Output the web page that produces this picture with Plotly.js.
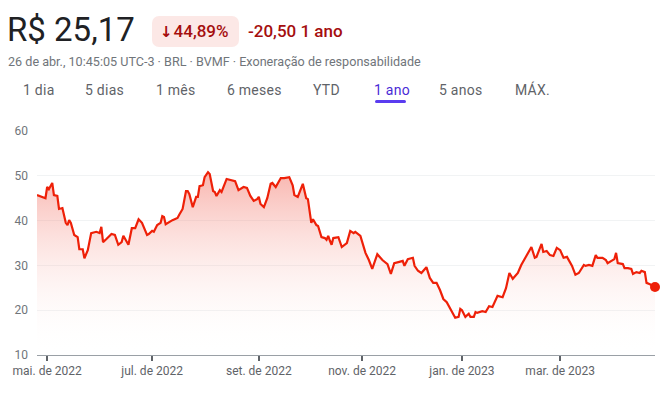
<!DOCTYPE html>
<html>
<head>
<meta charset="utf-8">
<script src="https://cdn.plot.ly/plotly-3.0.1.min.js"></script>
<style>
  html, body { margin: 0; padding: 0; background: #fff; }
  body { width: 665px; height: 395px; position: relative; overflow: hidden; font-family: Roboto, "Noto Sans", Arial, sans-serif; }
  #chart { position: absolute; left: 0; top: 0; width: 665px; height: 395px; }
  .abs { position: absolute; white-space: nowrap; }
  #price { left: 7px; top: 10px; font-size: 33px; color: #202124; line-height: 40px; }
  #badge { left: 152px; top: 16px; width: 87px; height: 31px; background: #fce8e6; border-radius: 7px; }
  #pct { left: 160px; top: 20px; font-size: 17px; font-weight: 500; line-height: 22px; color: #a50e0e; }
  #pct span { display: inline-block; margin-right: 1px; font-family: "DejaVu Sans", sans-serif; font-weight: bold; font-size: 15px; }
  #chg { left: 248px; top: 20px; font-size: 17px; font-weight: 500; line-height: 22px; color: #a50e0e; }
  #sub { left: 8px; top: 54px; font-size: 12.6px; line-height: 16px; color: #70757a; }
  .tab { top: 81px; font-size: 14px; line-height: 18px; color: #5f6368; letter-spacing: 0.25px; }
  #active { color: #4a2bd6; }
  #uline { left: 375px; top: 100px; width: 31px; height: 3px; border-radius: 2px; background: #5a3cf0; }
</style>
</head>
<body>
<div id="chart"></div>
<div class="abs" id="price">R$ 25,17</div>
<div class="abs" id="badge"></div>
<div class="abs" id="pct"><span>&#8595;</span>44,89%</div>
<div class="abs" id="chg">-20,50 1 ano</div>
<div class="abs" id="sub">26 de abr., 10:45:05 UTC-3 · BRL · BVMF · Exoneração de responsabilidade</div>
<div class="abs tab" style="left:23px">1 dia</div>
<div class="abs tab" style="left:85px">5 dias</div>
<div class="abs tab" style="left:156px">1 mês</div>
<div class="abs tab" style="left:227px">6 meses</div>
<div class="abs tab" style="left:313px">YTD</div>
<div class="abs tab" id="active" style="left:374px">1 ano</div>
<div class="abs tab" style="left:439px">5 anos</div>
<div class="abs tab" style="left:515px">MÁX.</div>
<div class="abs" id="uline"></div>
<script>
const dates = [
 "2022-04-26","2022-04-29","2022-05-01","2022-05-02","2022-05-03","2022-05-05","2022-05-06","2022-05-08","2022-05-09","2022-05-11",
 "2022-05-13","2022-05-14","2022-05-15","2022-05-16","2022-05-18","2022-05-20","2022-05-21","2022-05-23","2022-05-24","2022-05-26",
 "2022-05-27","2022-05-28","2022-05-31","2022-06-02","2022-06-03","2022-06-04","2022-06-06","2022-06-09","2022-06-11","2022-06-13",
 "2022-06-15","2022-06-16","2022-06-19","2022-06-21","2022-06-23","2022-06-25","2022-06-27","2022-06-30","2022-07-01","2022-07-03",
 "2022-07-04","2022-07-06","2022-07-08","2022-07-09","2022-07-10","2022-07-11","2022-07-15","2022-07-18","2022-07-19","2022-07-21",
 "2022-07-23","2022-07-24","2022-07-25","2022-07-27","2022-07-29","2022-07-30","2022-07-31","2022-08-02","2022-08-03","2022-08-05",
 "2022-08-06","2022-08-08","2022-08-09","2022-08-10","2022-08-12","2022-08-13","2022-08-16","2022-08-19","2022-08-21","2022-08-23",
 "2022-08-26","2022-08-28","2022-08-30","2022-09-01","2022-09-03","2022-09-04","2022-09-05","2022-09-07","2022-09-09","2022-09-11",
 "2022-09-12","2022-09-14","2022-09-17","2022-09-19","2022-09-22","2022-09-24","2022-09-25","2022-09-27","2022-09-28","2022-09-30",
 "2022-10-02","2022-10-03","2022-10-05","2022-10-06","2022-10-08","2022-10-09","2022-10-11","2022-10-13","2022-10-14","2022-10-15",
 "2022-10-16","2022-10-17","2022-10-18","2022-10-21","2022-10-23","2022-10-26","2022-10-28","2022-10-30","2022-10-31","2022-11-02",
 "2022-11-03","2022-11-06","2022-11-08","2022-11-10","2022-11-13","2022-11-16","2022-11-19","2022-11-21","2022-11-23","2022-11-26",
 "2022-11-28","2022-11-29","2022-12-01","2022-12-04","2022-12-05","2022-12-07","2022-12-09","2022-12-12","2022-12-14","2022-12-16",
 "2022-12-18","2022-12-20","2022-12-22","2022-12-24","2022-12-26","2022-12-27","2022-12-29","2022-12-31","2023-01-01","2023-01-02",
 "2023-01-04","2023-01-06","2023-01-07","2023-01-09","2023-01-10","2023-01-11","2023-01-14","2023-01-16","2023-01-18","2023-01-20",
 "2023-01-23","2023-01-26","2023-01-28","2023-01-30","2023-02-01","2023-02-04","2023-02-06","2023-02-09","2023-02-12","2023-02-14",
 "2023-02-15","2023-02-18","2023-02-19","2023-02-21","2023-02-23","2023-02-25","2023-02-27","2023-03-01","2023-03-03","2023-03-05",
 "2023-03-08","2023-03-10","2023-03-12","2023-03-15","2023-03-16","2023-03-18","2023-03-20","2023-03-22","2023-03-23","2023-03-26",
 "2023-03-28","2023-03-29","2023-04-01","2023-04-02","2023-04-03","2023-04-04","2023-04-07","2023-04-08","2023-04-10","2023-04-12",
 "2023-04-13","2023-04-15","2023-04-17","2023-04-18","2023-04-20","2023-04-21","2023-04-23","2023-04-26"
];
const prices = [
 45.7,45.3,45.0,47.5,47.0,48.4,45.7,45.5,42.6,42.8,
 39.5,39.0,40.1,39.5,36.8,36.3,33.6,33.6,31.6,33.4,
 35.2,37.2,37.5,37.2,38.6,35.2,35.9,37.0,36.8,34.6,
 35.2,36.6,34.6,38.3,38.3,40.3,39.5,36.8,37.0,37.7,
 37.5,39.0,39.5,41.0,40.8,39.2,40.1,40.6,41.3,42.6,
 46.6,46.6,45.9,43.0,45.3,45.3,47.7,47.9,49.7,50.8,
 50.4,46.6,46.4,45.5,46.8,46.4,49.3,49.1,48.8,46.8,
 47.5,47.3,45.5,44.4,44.8,45.3,43.7,43.0,45.0,48.2,
 48.4,47.5,49.5,49.5,49.7,47.9,45.7,45.3,46.4,48.2,
 45.0,44.8,39.5,40.3,39.0,38.8,36.3,36.1,35.7,36.6,
 35.5,34.6,36.1,36.3,34.1,35.0,37.7,37.2,37.5,36.8,
 36.6,32.8,31.2,29.2,32.5,31.2,30.3,28.1,30.5,30.8,
 31.0,29.9,31.4,31.7,29.9,28.8,28.3,29.6,27.2,26.1,
 26.1,24.5,22.5,21.8,20.3,19.8,18.3,18.5,20.3,20.0,
 18.5,19.2,18.5,18.5,19.6,19.4,19.8,19.6,20.9,20.7,
 23.2,22.9,24.9,28.3,27.0,28.3,30.1,32.1,34.1,31.7,
 31.9,34.8,33.0,33.2,32.3,32.1,33.9,33.4,31.7,31.9,
 29.9,27.9,28.3,30.1,29.9,30.1,29.9,32.3,31.7,31.7,
 31.2,30.5,31.2,31.4,32.8,30.5,30.3,29.4,29.4,29.2,
 28.1,28.5,28.3,28.8,28.5,26.1,25.8,25.17
];
const xTickVals = ["2022-05-02","2022-07-03","2022-09-04","2022-11-04","2023-01-02","2023-03-01"];
const xTickText = ["mai. de 2022","jul. de 2022","set. de 2022","nov. de 2022","jan. de 2023","mar. de 2023"];
const yTickVals = [10,20,30,40,50,60];

const red = "rgb(238,32,8)";
const traces = [
  {
    x: dates, y: prices, type: "scatter", mode: "lines",
    line: {color: red, width: 2.2},
    fill: "tozeroy",
    fillgradient: {
      type: "vertical", start: 10, stop: 51,
      colorscale: [[0, "rgba(255,255,255,0)"], [1, "rgba(240,90,75,0.45)"]]
    },
    hoverinfo: "skip"
  },
  {
    x: [dates[dates.length - 1]], y: [prices[prices.length - 1]],
    type: "scatter", mode: "markers",
    marker: {color: red, size: 10},
    cliponaxis: false, hoverinfo: "skip"
  }
];
const layout = {
  width: 665, height: 395,
  margin: {l: 37, r: 10, t: 131, b: 40},
  paper_bgcolor: "#fff", plot_bgcolor: "#fff",
  showlegend: false,
  font: {family: "Roboto, 'Noto Sans', Arial, sans-serif", size: 12, color: "#70757a"},
  xaxis: {
    type: "date", range: ["2022-04-26", "2023-04-26"],
    tickvals: xTickVals, ticktext: xTickText,
    showgrid: false, zeroline: false,
    showline: true, linecolor: "#9aa0a6", linewidth: 1,
    ticks: "outside", ticklen: 5, tickwidth: 2, tickcolor: "#5f6368",
    tickfont: {size: 12, color: "#5f6368"}
  },
  yaxis: {
    range: [10, 60], tickvals: yTickVals,
    showgrid: true, gridcolor: "#f1f3f4", gridwidth: 1,
    zeroline: false, showline: false, ticks: "",
    ticklabelstandoff: 8,
    tickfont: {size: 12, color: "#70757a"}
  }
};
Plotly.newPlot("chart", traces, layout, {staticPlot: true, displayModeBar: false});
</script>
</body>
</html>
